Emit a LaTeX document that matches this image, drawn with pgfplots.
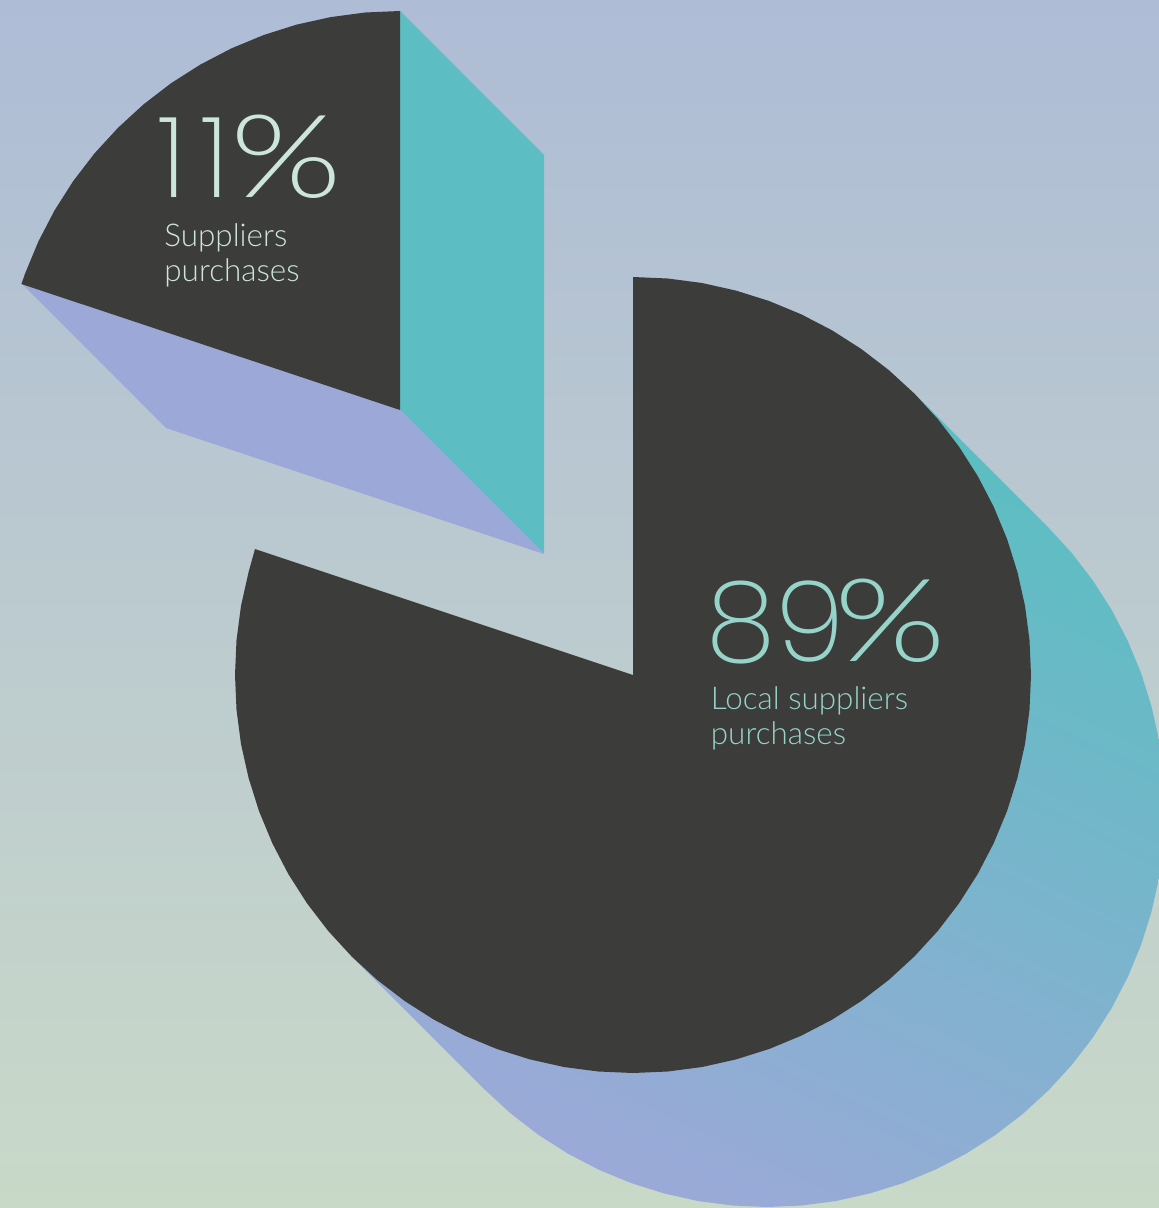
\documentclass[border=0pt]{standalone}
\usepackage{pgfplots}
\pgfplotsset{compat=1.18}
\usepackage{graphicx}
\usepackage{fontspec}
\setmainfont{Lato}[UprightFont={* Light}]
\newfontfamily\thinfont{Poppins}[UprightFont={* ExtraLight}]
\definecolor{bgtop}{HTML}{AEBCD6}
\definecolor{bgmid}{HTML}{BDCED0}
\definecolor{bgbot}{HTML}{C9D9C8}
\definecolor{dark}{HTML}{3C3C3A}
\definecolor{teal1}{HTML}{5CBEC2}
\definecolor{lav1}{HTML}{9CA9D8}
\definecolor{txtA}{HTML}{96D4CA}
\definecolor{txtB}{HTML}{CDE6DA}
\newcommand{\bigpct}{\scalebox{1.28}[1.03]{\rmfamily\%}}
\begin{document}
\begin{tikzpicture}
\begin{axis}[
  scale only axis, width=579.5pt, height=604pt,
  xmin=0, xmax=1159, ymin=0, ymax=1208, y dir=reverse,
  hide axis, clip=true]
% background
\addplot[draw=none, top color=bgtop, middle color=bgmid, bottom color=bgbot] coordinates {(0,0) (1159,0) (1159,1208) (0,1208) (0,0)};
% extrusion of the 89% slice
\addplot[draw=none, left color=teal1, right color=lav1, shading angle=-25] coordinates {
(914.4,393.6) (1048.4,527.6) (1071.9,553.2) (1093,580.7) (1111.7,610) (1127.7,640.8) (1141,672.9) (1151.4,706) (1159,739.9) (1163.5,774.3) (1165,809) (1163.5,843.7) (1159,878.1) (1151.4,912) (1141,945.1) (1127.7,977.2) (1111.7,1008) (1093,1037.3) (1071.9,1064.8) (1048.4,1090.4) (1022.8,1113.9) (995.3,1135) (966,1153.7) (935.2,1169.7) (903.1,1183) (870,1193.4) (836.1,1201) (801.7,1205.5) (767,1207) (732.3,1205.5) (697.9,1201) (664,1193.4) (630.9,1183) (598.8,1169.7) (568,1153.7) (538.7,1135) (511.2,1113.9) (485.6,1090.4) (351.6,956.4) (633,675) (914.4,393.6)};
% extrusion of the 11% slice
\addplot[draw=none, fill=teal1] coordinates {(400,11) (544,155) (544,554) (400,410) (400,11)};
\addplot[draw=none, fill=lav1] coordinates {(22,284) (166,428) (544,554) (400,410) (22,284)};
% 11% slice
\addplot[draw=none, fill=dark] coordinates {(400,410) (21.4,284) (25.1,273.5) (38.4,241.4) (54.5,210.5) (73.2,181.1) (94.4,153.5) (117.9,127.9) (143.5,104.4) (171.1,83.2) (200.5,64.5) (231.4,48.4) (263.5,35.1) (296.7,24.6) (330.7,17.1) (365.2,12.5) (400,11) (400,410)};
% 89% slice
\addplot[draw=none, fill=dark] coordinates {(633,675) (633,277) (667.7,278.5) (702.1,283) (736,290.6) (769.1,301) (801.2,314.3) (832,330.3) (861.3,349) (888.8,370.1) (914.4,393.6) (937.9,419.2) (959,446.7) (977.7,476) (993.7,506.8) (1007,538.9) (1017.4,572) (1025,605.9) (1029.5,640.3) (1031,675) (1029.5,709.7) (1025,744.1) (1017.4,778) (1007,811.1) (993.7,843.2) (977.7,874) (959,903.3) (937.9,930.8) (914.4,956.4) (888.8,979.9) (861.3,1001) (832,1019.7) (801.2,1035.7) (769.1,1049) (736,1059.4) (702.1,1067) (667.7,1071.5) (633,1073) (598.3,1071.5) (563.9,1067) (530,1059.4) (496.9,1049) (464.8,1035.7) (434,1019.7) (404.7,1001) (377.2,979.9) (351.6,956.4) (328.1,930.8) (307,903.3) (288.3,874) (272.3,843.2) (259,811.1) (248.6,778) (241,744.1) (236.5,709.7) (235,675) (236.5,640.3) (241,605.9) (248.6,572) (255,549) (633,675)};
% labels
\node[anchor=base west, inner sep=0pt, text=txtB, font=\thinfont\fontsize{56}{56}\selectfont] at (axis cs:157,198) {1\kern7pt1\kern0.5pt\bigpct};
\node[anchor=base west, inner sep=0pt, text=txtB, font=\fontsize{15.7}{17.5}\selectfont] at (axis cs:164,246.5) {Suppliers};
\node[anchor=base west, inner sep=0pt, text=txtB, font=\fontsize{15.7}{17.5}\selectfont] at (axis cs:164,281.5) {purchases};
\node[anchor=base west, inner sep=0pt, text=txtA, font=\thinfont\fontsize{56}{56}\selectfont] at (axis cs:706,661) {89\kern-5pt\bigpct};
\node[anchor=base west, inner sep=0pt, text=txtA, font=\fontsize{15.7}{17.5}\selectfont] at (axis cs:710.5,709) {Local suppliers};
\node[anchor=base west, inner sep=0pt, text=txtA, font=\fontsize{15.7}{17.5}\selectfont] at (axis cs:710.5,744) {purchases};
\end{axis}
\end{tikzpicture}
\end{document}
